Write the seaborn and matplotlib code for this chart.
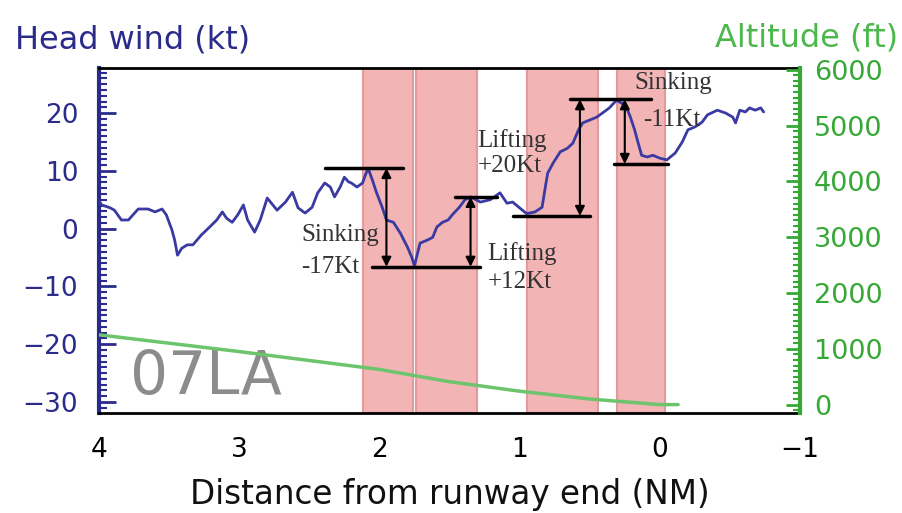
import numpy as np
import pandas as pd
import matplotlib
matplotlib.use("Agg")
import matplotlib.pyplot as plt
from matplotlib.ticker import MultipleLocator
import seaborn as sns

# head wind trace (distance NM, kt)
dist_nm = [4.00, 3.98, 3.92, 3.89, 3.84, 3.79, 3.72, 3.65, 3.60, 3.55, 3.52, 3.48, 3.46, 3.44,
           3.41, 3.37, 3.33, 3.27, 3.21, 3.16, 3.12, 3.09, 3.05, 3.01, 2.97, 2.94, 2.89, 2.85,
           2.80, 2.73, 2.67, 2.62, 2.58, 2.53, 2.48, 2.44, 2.39, 2.35, 2.32, 2.28, 2.25, 2.22,
           2.20, 2.16, 2.12, 2.10, 2.08, 2.05, 2.02, 1.98, 1.95, 1.90, 1.85, 1.80, 1.77, 1.75,
           1.71, 1.66, 1.62, 1.59, 1.55, 1.51, 1.48, 1.43, 1.39, 1.35, 1.28, 1.21, 1.14, 1.09,
           1.05, 1.00, 0.95, 0.89, 0.84, 0.82, 0.80, 0.76, 0.71, 0.66, 0.62, 0.58, 0.55, 0.50,
           0.45, 0.41, 0.36, 0.31, 0.27, 0.23, 0.21, 0.18, 0.16, 0.13, 0.09, 0.05, 0.00, -0.05,
           -0.11, -0.16, -0.20, -0.25, -0.30, -0.34, -0.41, -0.47, -0.52, -0.54, -0.57, -0.61,
           -0.64, -0.68, -0.72, -0.74]
head_wind_kt = [4.8, 4.1, 3.6, 3.2, 1.5, 1.5, 3.4, 3.4, 2.9, 3.4, 2.4, -0.2, -2.0, -4.6,
                -3.4, -2.8, -2.8, -1.1, 0.3, 1.5, 2.9, 1.8, 1.1, 2.4, 4.1, 1.5, -0.6, 1.5,
                5.3, 3.2, 4.6, 6.3, 3.6, 2.7, 3.7, 6.2, 7.9, 7.2, 5.5, 7.2, 8.9, 8.1,
                7.9, 7.2, 7.9, 9.3, 10.4, 8.4, 6.2, 3.7, 1.5, 1.1, -0.8, -3.2, -4.9, -6.4,
                -2.5, -2.0, -1.5, 0.3, 1.1, 1.5, 2.4, 3.7, 5.0, 5.5, 4.6, 5.0, 6.2, 4.4,
                4.6, 3.6, 2.6, 2.9, 3.7, 6.7, 9.6, 11.4, 13.3, 13.9, 14.8, 17.1, 18.3, 18.8,
                19.3, 20.0, 20.9, 22.2, 21.7, 20.5, 19.3, 17.1, 15.3, 12.7, 12.4, 12.7, 12.2, 11.9,
                13.1, 15.0, 17.1, 17.6, 18.4, 19.7, 20.5, 20.0, 19.3, 18.3, 20.5, 20.2,
                20.9, 20.5, 20.9, 20.2]

# glide path altitude
alt_dist_nm = [4.0, 3.0, 2.0, 1.5, 1.0, 0.5, 0.0, -0.13]
altitude_ft = [1250, 950, 630, 410, 240, 100, 0, 0]

# shaded wind shear zones (from NM, to NM)
zone_start = [2.117, 1.739, 0.947, 0.305]
zone_end = [1.760, 1.304, 0.441, -0.037]

# reference levels for the wind change markers
level_kt = [10.5, -6.6, 5.5, 2.2, 22.4, 11.2]
level_from = [2.39, 2.05, 1.46, 1.05, 0.64, 0.33]
level_to = [1.83, 1.28, 1.16, 0.50, 0.06, -0.06]

arrow_nm = [1.95, 1.35, 0.57, 0.25]
arrow_from = [10.5, -6.6, 2.2, 22.4]
arrow_to = [-6.6, 5.5, 22.4, 11.2]

labels = ["Sinking", "-17Kt", "Lifting", "+12Kt", "Lifting", "+20Kt", "Sinking", "-11Kt"]
label_nm = [2.56, 2.56, 1.23, 1.23, 1.30, 1.30, 0.18, 0.12]
label_kt = [-1.1, -6.6, -4.3, -9.2, 15.2, 10.8, 25.2, 18.8]

wind = pd.DataFrame({"dist": dist_nm, "wind": head_wind_kt})
alt = pd.DataFrame({"dist": alt_dist_nm, "alt": altitude_ft})

sns.set_style("white")
plt.rcParams["font.family"] = ["DejaVu Sans"]

blue = "#2b2b8c"
green = "#36a836"

fig = plt.figure(figsize=(9.03, 5.13), dpi=100)
ax = fig.add_axes([0.1096, 0.195, 0.7764, 0.6724])

for a, b in zip(zone_start, zone_end):
    ax.axvspan(a, b, facecolor="#f2b4b4", edgecolor="#e49a9a", lw=1.5, zorder=0)

sns.lineplot(data=wind, x="dist", y="wind", ax=ax, color="#3a3aa2", lw=2, sort=False, zorder=3)

for y, x0, x1 in zip(level_kt, level_from, level_to):
    ax.plot([x0, x1], [y, y], color="black", lw=2.5, zorder=4)
for x, y0, y1 in zip(arrow_nm, arrow_from, arrow_to):
    ax.annotate("", xy=(x, y1), xytext=(x, y0),
                arrowprops=dict(arrowstyle="<|-|>", color="black", lw=1.5,
                                mutation_scale=14, shrinkA=0, shrinkB=0), zorder=4)
for t, x, y in zip(labels, label_nm, label_kt):
    ax.text(x, y, t, ha="left", va="center", fontsize=18, color="#333333",
            family=["Liberation Serif", "DejaVu Serif"], zorder=5)

ax.text(3.24, -25.7, "07LA", ha="center", va="center", fontsize=43, color="#8c8c8c", zorder=2)

ax.set_xlim(4, -1)
ax.set_ylim(-31.9, 27.8)
ax.xaxis.set_major_locator(MultipleLocator(1))
ax.xaxis.set_minor_locator(MultipleLocator(0.1))
ax.yaxis.set_major_locator(MultipleLocator(10))
ax.yaxis.set_minor_locator(MultipleLocator(1))
ax.set_yticks([20, 10, 0, -10, -20, -30])
ax.set_xticks([4, 3, 2, 1, 0, -1])
ax.set_xticklabels(["4", "3", "2", "1", "0", "\u22121"])
ax.set_yticklabels(["20", "10", "0", "\u221210", "\u221220", "\u221230"])
ax.tick_params(axis="x", which="major", direction="in", length=8, width=1.5, color="black",
               labelsize=19, pad=17, labelcolor="black")
ax.tick_params(axis="x", which="minor", direction="in", length=4, width=1.2, color="black")
ax.tick_params(axis="y", which="major", direction="in", length=12, width=2, color=blue,
               labelsize=19, pad=15, labelcolor=blue)
ax.tick_params(axis="y", which="minor", direction="in", length=6, width=1.5, color=blue)
ax.set_xlabel("Distance from runway end (NM)", fontsize=23.5, labelpad=11, color="#111111")
ax.set_ylabel("")
ax.spines["left"].set_color(blue)
ax.spines["left"].set_linewidth(3)
ax.spines["top"].set_color("black")
ax.spines["top"].set_linewidth(2)
ax.spines["bottom"].set_color("black")
ax.spines["bottom"].set_linewidth(2)
ax.spines["right"].set_visible(False)

ax2 = ax.twinx()
sns.lineplot(data=alt, x="dist", y="alt", ax=ax2, color="#6cc46c", lw=2.5, sort=False)
ax2.set_ylim(-150, 6030)
ax2.set_xlim(4, -1)
ax2.yaxis.set_major_locator(MultipleLocator(1000))
ax2.yaxis.set_minor_locator(MultipleLocator(100))
ax2.tick_params(axis="y", which="major", direction="in", length=10, width=2, color=green,
                labelsize=19.5, pad=10, labelcolor=green)
ax2.tick_params(axis="y", which="minor", direction="in", length=5, width=1.5, color=green)
ax2.set_ylabel("")
for s in ["left", "top", "bottom"]:
    ax2.spines[s].set_visible(False)
ax2.spines["right"].set_color(green)
ax2.spines["right"].set_linewidth(3)

fig.text(15 / 903, 1 - 40 / 513, "Head wind (kt)", ha="left", va="center", fontsize=23, color=blue)
fig.text(898 / 903, 1 - 38 / 513, "Altitude (ft)", ha="right", va="center", fontsize=23,
         color="#4cb84c")

fig.savefig("out.png", dpi=100, facecolor="white")
